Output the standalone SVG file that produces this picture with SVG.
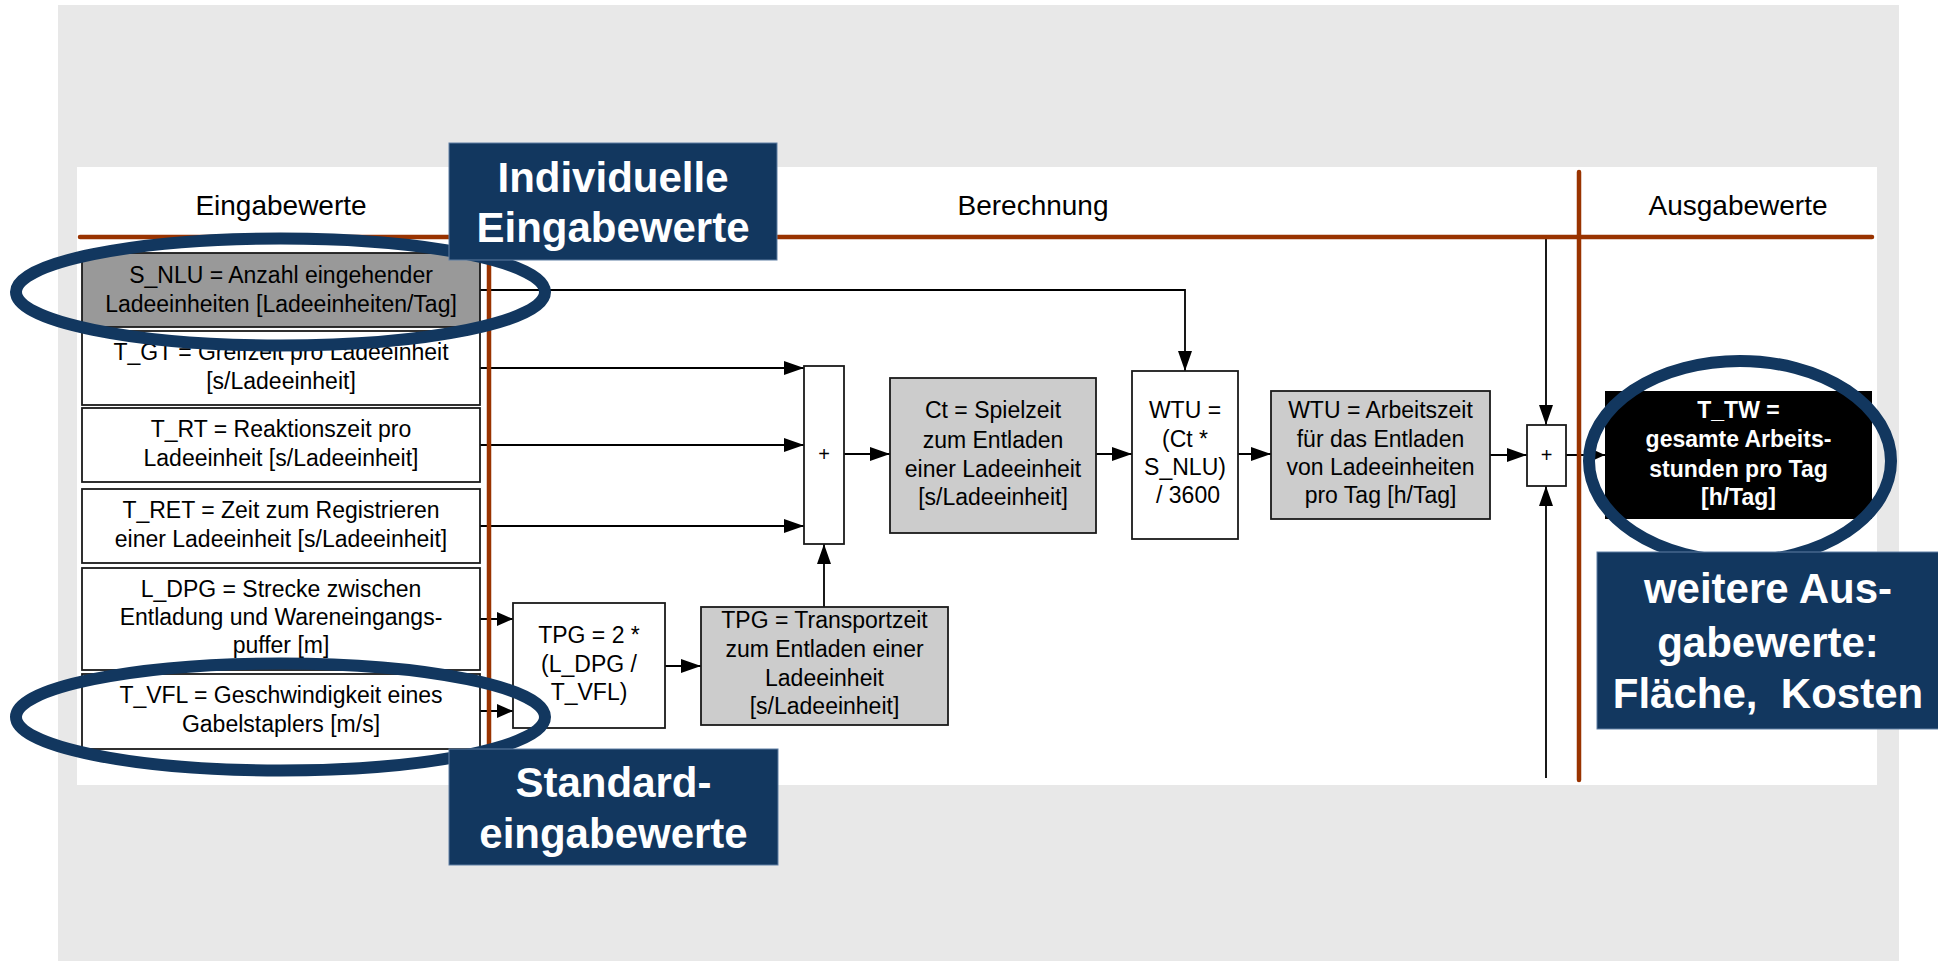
<svg xmlns="http://www.w3.org/2000/svg" width="1938" height="961" viewBox="0 0 1938 961">
<style>
.t{font-family:"Liberation Sans",Arial,sans-serif;font-size:23px;text-anchor:middle;fill:#000}
.h{font-size:28px}
.tw{font-weight:bold;fill:#fff}
.box{stroke:#1a1a1a;stroke-width:1.8}
.w{fill:#fff}.g{fill:#cccccc}.dg{fill:#999999}.k{fill:#000}
.conn{stroke:#000;stroke-width:1.8;fill:none}
.ol{stroke:#993300;stroke-width:4.5;stroke-linecap:round;fill:none}
.ell{fill:none;stroke:#12375f;stroke-width:12}
.call{fill:#12375f;stroke:#5f7ea3;stroke-width:1}
.ct{font-family:"Liberation Sans",Arial,sans-serif;font-weight:bold;font-size:42px;fill:#fff;text-anchor:middle}
.plus{font-family:"Liberation Sans",Arial,sans-serif;font-size:20px;text-anchor:middle;fill:#000}
</style>
<defs>
<marker id="arr" markerWidth="20" markerHeight="14" refX="20" refY="7" orient="auto" markerUnits="userSpaceOnUse"><path d="M0,0 L20,7 L0,14 z" fill="#000"/></marker>
<marker id="arrs" markerWidth="16" markerHeight="14" refX="16" refY="7" orient="auto" markerUnits="userSpaceOnUse"><path d="M0,0 L16,7 L0,14 z" fill="#000"/></marker>
<marker id="arrt" markerWidth="10" markerHeight="9" refX="10" refY="4.5" orient="auto" markerUnits="userSpaceOnUse"><path d="M0,0 L10,4.5 L0,9 z" fill="#000"/></marker>
</defs>
<rect x="58" y="5" width="1841" height="956" fill="#e8e8e8"/>
<rect x="77" y="167" width="1800" height="618" fill="#fff"/>
<g id="headers">
<text class="t h" x="281" y="215">Eingabewerte</text>
<text class="t h" x="1033" y="215">Berechnung</text>
<text class="t h" x="1738" y="215">Ausgabewerte</text>
</g>
<g id="connectors">
<path class="conn" d="M480,290 H1185 V371" marker-end="url(#arr)"/>
<path class="conn" d="M480,368 H804" marker-end="url(#arr)"/>
<path class="conn" d="M480,445 H804" marker-end="url(#arr)"/>
<path class="conn" d="M480,526 H804" marker-end="url(#arr)"/>
<path class="conn" d="M480,619 H513" marker-end="url(#arrs)"/>
<path class="conn" d="M480,711 H513" marker-end="url(#arrs)"/>
<path class="conn" d="M665,666 H701" marker-end="url(#arr)"/>
<path class="conn" d="M824,607 V544" marker-end="url(#arr)"/>
<path class="conn" d="M844,454 H890" marker-end="url(#arr)"/>
<path class="conn" d="M1096,454 H1132" marker-end="url(#arr)"/>
<path class="conn" d="M1238,454 H1271" marker-end="url(#arr)"/>
<path class="conn" d="M1490,455 H1527" marker-end="url(#arr)"/>
<path class="conn" d="M1546,239 V425" marker-end="url(#arr)"/>
<path class="conn" d="M1546,778 V486" marker-end="url(#arr)"/>
<path class="conn" d="M1566,455 H1605" marker-end="url(#arrt)"/>
</g>
<g id="lanes">
<line class="ol" x1="80" y1="237" x2="1872" y2="237"/>
<line class="ol" x1="489" y1="237" x2="489" y2="762"/>
<line class="ol" x1="1579" y1="172" x2="1579" y2="780"/>
</g>
<g id="n_snlu"><rect class="box dg" x="82" y="253" width="398" height="74"/>
<text class="t" x="281"><tspan x="281" y="283">S_NLU = Anzahl eingehender</tspan><tspan x="281" y="312">Ladeeinheiten [Ladeeinheiten/Tag]</tspan></text></g>
<g id="n_tgt"><rect class="box w" x="82" y="331" width="398" height="74"/>
<text class="t"><tspan x="281" y="360">T_GT = Greifzeit pro Ladeeinheit</tspan><tspan x="281" y="389">[s/Ladeeinheit]</tspan></text></g>
<g id="n_trt"><rect class="box w" x="82" y="408" width="398" height="74"/>
<text class="t"><tspan x="281" y="437">T_RT = Reaktionszeit pro</tspan><tspan x="281" y="466">Ladeeinheit [s/Ladeeinheit]</tspan></text></g>
<g id="n_tret"><rect class="box w" x="82" y="489" width="398" height="74"/>
<text class="t"><tspan x="281" y="518">T_RET = Zeit zum Registrieren</tspan><tspan x="281" y="547">einer Ladeeinheit [s/Ladeeinheit]</tspan></text></g>
<g id="n_ldpg"><rect class="box w" x="82" y="568" width="398" height="102"/>
<text class="t"><tspan x="281" y="597">L_DPG = Strecke zwischen</tspan><tspan x="281" y="625">Entladung und Wareneingangs-</tspan><tspan x="281" y="653">puffer [m]</tspan></text></g>
<g id="n_tvfl"><rect class="box w" x="82" y="674" width="398" height="75"/>
<text class="t"><tspan x="281" y="703">T_VFL = Geschwindigkeit eines</tspan><tspan x="281" y="732">Gabelstaplers [m/s]</tspan></text></g>
<g id="n_plus1"><rect class="box w" x="804" y="366" width="40" height="178"/>
<text class="plus" x="824" y="461">+</text></g>
<g id="n_ct"><rect class="box g" x="890" y="378" width="206" height="155"/>
<text class="t"><tspan x="993" y="418">Ct = Spielzeit</tspan><tspan x="993" y="448">zum Entladen</tspan><tspan x="993" y="477">einer Ladeeinheit</tspan><tspan x="993" y="505">[s/Ladeeinheit]</tspan></text></g>
<g id="n_tpg1"><rect class="box w" x="513" y="603" width="152" height="125"/>
<text class="t"><tspan x="589" y="643">TPG = 2 *</tspan><tspan x="589" y="672">(L_DPG /</tspan><tspan x="589" y="700">T_VFL)</tspan></text></g>
<g id="n_tpg2"><rect class="box g" x="701" y="607" width="247" height="118"/>
<text class="t"><tspan x="824.5" y="628">TPG = Transportzeit</tspan><tspan x="824.5" y="657">zum Entladen einer</tspan><tspan x="824.5" y="686">Ladeeinheit</tspan><tspan x="824.5" y="714">[s/Ladeeinheit]</tspan></text></g>
<g id="n_wtu1"><rect class="box w" x="1132" y="371" width="106" height="168"/>
<text class="t"><tspan x="1185" y="418">WTU =</tspan><tspan x="1185" y="447">(Ct *</tspan><tspan x="1185" y="475">S_NLU)</tspan><tspan x="1188" y="503">/ 3600</tspan></text></g>
<g id="n_wtu2"><rect class="box g" x="1271" y="391" width="219" height="128"/>
<text class="t"><tspan x="1380.5" y="418">WTU = Arbeitszeit</tspan><tspan x="1380.5" y="447">für das Entladen</tspan><tspan x="1380.5" y="475">von Ladeeinheiten</tspan><tspan x="1380.5" y="503">pro Tag [h/Tag]</tspan></text></g>
<g id="n_plus2"><rect class="box w" x="1527" y="425" width="39" height="61"/>
<text class="plus" x="1546.5" y="462">+</text></g>
<g id="n_ttw"><rect class="k" x="1605" y="391" width="267" height="128"/>
<text class="t tw"><tspan x="1738.5" y="418">T_TW =</tspan><tspan x="1738.5" y="447">gesamte Arbeits-</tspan><tspan x="1738.5" y="477">stunden pro Tag</tspan><tspan x="1738.5" y="505">[h/Tag]</tspan></text></g>
<g id="highlights">
<ellipse class="ell" cx="280.5" cy="292" rx="264.5" ry="53.5"/>
<ellipse class="ell" cx="280.5" cy="717" rx="264.5" ry="53.5"/>
<ellipse class="ell" cx="1740" cy="461" rx="151" ry="100"/>
</g>
<g id="c_individuell"><rect class="call" x="449" y="143" width="328" height="117"/>
<text class="ct"><tspan x="613" y="192">Individuelle</tspan><tspan x="613" y="242">Eingabewerte</tspan></text></g>
<g id="c_standard"><rect class="call" x="449" y="749" width="329" height="116"/>
<text class="ct"><tspan x="613.5" y="797">Standard-</tspan><tspan x="613.5" y="848">eingabewerte</tspan></text></g>
<g id="c_weitere"><rect class="call" x="1597" y="552" width="345" height="177"/>
<text class="ct"><tspan x="1768" y="603">weitere Aus-</tspan><tspan x="1768" y="657">gabewerte:</tspan><tspan x="1768" y="708">Fläche,&#160; Kosten</tspan></text></g>
</svg>
